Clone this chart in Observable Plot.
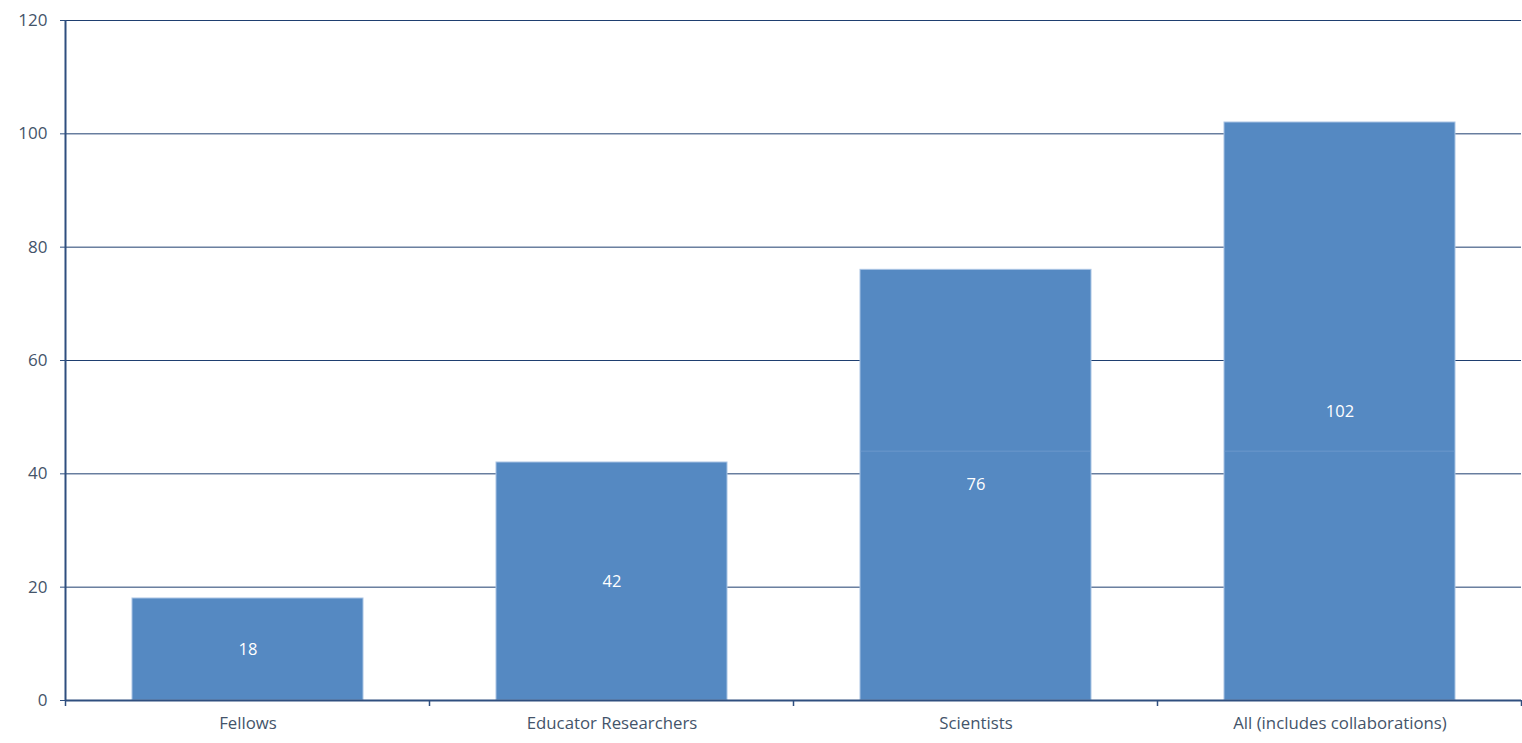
<!DOCTYPE html>
<html>
<head>
<meta charset="utf-8">
<script src="https://cdn.jsdelivr.net/npm/d3@7"></script>
<script src="https://cdn.jsdelivr.net/npm/@observablehq/plot@0.6"></script>
<style>
  html, body { margin: 0; padding: 0; background: #fff; }
  svg { display: block; }
</style>
</head>
<body>
<div id="chart"></div>
<script>
const categories = ["Fellows", "Educator Researchers", "Scientists", "All (includes collaborations)"];
const values = [18, 42, 76, 102];
const yTicks = [0, 20, 40, 60, 80, 100, 120];
const seamValue = 44;

const data = categories.map((c, i) => ({category: c, value: values[i]}));

const axisColor = "#2f4f7f";
const gridColor = "#1f3f70";
const textColor = "#44546a";
const barColor = "#5589c2";

const chart = Plot.plot({
  width: 1522,
  height: 743,
  marginLeft: 66,
  marginRight: 1,
  marginTop: 20,
  marginBottom: 43,
  style: {fontFamily: "'Open Sans', 'Liberation Sans', sans-serif", fontSize: "16px", color: textColor, background: "#fff"},
  x: {domain: categories, paddingInner: 0.365, paddingOuter: 0.181, label: null},
  y: {domain: [0, 120], ticks: yTicks, label: null},
  marks: [
    Plot.ruleY(yTicks.filter(t => t > 0), {stroke: gridColor, strokeWidth: 1}),
    Plot.barY(data, {x: "category", y: "value", fill: barColor, stroke: "#a9c4e4", strokeWidth: 1}),
    Plot.tickY(data.filter(d => d.value > seamValue), {x: "category", y: () => seamValue, stroke: "#7aa3d4", strokeWidth: 1, strokeOpacity: 0.6}),
    Plot.text(data, {x: "category", y: d => d.value / 2, text: d => String(d.value), fill: "white", fontSize: 16.5}),
    Plot.axisY({ticks: yTicks, tickSize: 6, tickPadding: 13, fontSize: 17, color: textColor, stroke: axisColor, label: null}),
    Plot.axisX({tickSize: 0, tickPadding: 17, fontSize: 16.8, color: textColor, label: null}),
    Plot.ruleY([0], {stroke: axisColor, strokeWidth: 2})
  ]
});

// Axis line on the left and category boundary ticks, positioned from the plot's own scales
const svg = d3.select(chart);
const xs = chart.scale("x");
const ys = chart.scale("y");
const step = xs.step;
const bw = xs.bandwidth;
const x0 = xs.apply(categories[0]) - (step - bw) / 2;
const yBottom = ys.apply(0);
const yTop = ys.apply(120);
const g = svg.append("g").attr("stroke", axisColor);
g.append("line").attr("x1", x0).attr("x2", x0).attr("y1", yTop).attr("y2", yBottom + 1).attr("stroke-width", 2);
const boundaries = [x0, ...categories.map(c => xs.apply(c) + bw + (step - bw) / 2)];
boundaries.forEach(b => {
  g.append("line").attr("x1", b).attr("x2", b).attr("y1", yBottom).attr("y2", yBottom + 6).attr("stroke-width", 1.5);
});
document.getElementById("chart").appendChild(chart);
</script>
</body>
</html>
